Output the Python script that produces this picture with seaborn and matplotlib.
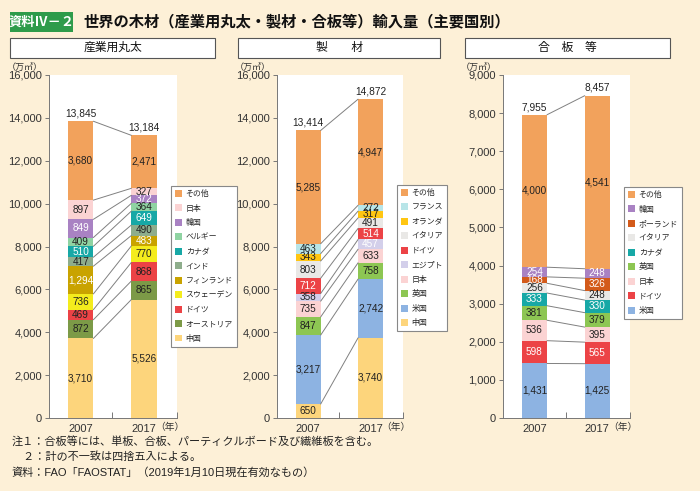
import matplotlib
matplotlib.use("Agg")
import matplotlib.pyplot as plt
from matplotlib.patches import Patch, Rectangle
import seaborn as sns
import pandas as pd

years = ["2007", "2017"]

# 産業用丸太 (bottom -> top)
logs_countries = ["中国", "オーストリア", "ドイツ", "スウェーデン", "フィンランド",
                  "インド", "カナダ", "ベルギー", "韓国", "日本", "その他"]
logs_2007 = [3710, 872, 469, 736, 1294, 417, 510, 409, 849, 897, 3680]
logs_2017 = [5526, 865, 868, 770, 483, 490, 649, 364, 372, 327, 2471]
logs_totals = [13845, 13184]

# 製材
sawn_countries = ["中国", "米国", "英国", "日本", "エジプト", "ドイツ",
                  "イタリア", "オランダ", "フランス", "その他"]
sawn_2007 = [650, 3217, 847, 735, 358, 712, 803, 343, 463, 5285]
sawn_2017 = [3740, 2742, 758, 633, 457, 514, 491, 317, 272, 4947]
sawn_totals = [13414, 14872]

# 合板等
ply_countries = ["米国", "ドイツ", "日本", "英国", "カナダ", "イタリア",
                 "ポーランド", "韓国", "その他"]
ply_2007 = [1431, 598, 536, 381, 333, 256, 168, 254, 4000]
ply_2017 = [1425, 565, 395, 379, 330, 248, 326, 248, 4541]
ply_totals = [7955, 8457]

palette = {
    "その他": "#F2A25C", "日本": "#FBD3D3", "韓国": "#A982C3", "ベルギー": "#8FD3A2",
    "カナダ": "#17A8A6", "インド": "#8EAD8C", "フィンランド": "#C9A300",
    "スウェーデン": "#F4EC1D", "ドイツ": "#EC4346", "オーストリア": "#7C9A47",
    "中国": "#FDD57C", "フランス": "#B8E5E8", "オランダ": "#FFC612",
    "イタリア": "#E9E8E6", "エジプト": "#D3CFEA", "英国": "#8DC653",
    "米国": "#8DB3E2", "ポーランド": "#D35A1A",
}

# segments whose value label is white: (country, year index)
logs_white = {("韓国", 0), ("韓国", 1), ("カナダ", 0), ("カナダ", 1),
              ("フィンランド", 0), ("フィンランド", 1)}
sawn_white = {("ドイツ", 0), ("ドイツ", 1), ("エジプト", 1)}
ply_white = {("韓国", 0), ("韓国", 1), ("ポーランド", 0), ("ポーランド", 1),
             ("カナダ", 0), ("カナダ", 1), ("ドイツ", 0), ("ドイツ", 1)}

sns.set_theme(style="ticks")
plt.rcParams["font.family"] = ["Liberation Sans", "Noto Sans CJK JP", "DejaVu Sans"]

BG = "#FDF0D7"
W, H = 700, 491
fig = plt.figure(figsize=(7, 4.91), dpi=100, facecolor=BG)


def fx(px):
    return px / W


def fy(py):
    return 1 - py / H


def draw_panel(left_px, width_px, countries, v07, v17, totals, white, ymax, ystep,
               legend_xy):
    ax = fig.add_axes([fx(left_px), fy(418), width_px / W, 343 / H])
    ax.set_facecolor("white")
    df = pd.DataFrame({"country": countries, "2007": v07, "2017": v17})
    df["top07"] = df["2007"].cumsum()
    df["top17"] = df["2017"].cumsum()

    # overlapping cumulative bars, tallest first
    for i in range(len(df) - 1, -1, -1):
        row = df.iloc[i]
        sns.barplot(x=years, y=[row["top07"], row["top17"]],
                    color=palette[row["country"]], saturation=1, width=0.4,
                    linewidth=0, ax=ax)

    bw = 0.2
    for i, row in df.iterrows():
        # connector lines between segment tops
        ax.plot([bw, 1 - bw], [row["top07"], row["top17"]], color="#808080",
                lw=0.7, zorder=3)
        for j, col in enumerate(["2007", "2017"]):
            top = row["top07"] if j == 0 else row["top17"]
            val = row[col]
            c = "white" if (row["country"], j) in white else "#222222"
            ax.text(j, top - val / 2, f"{val:,}", ha="center", va="center",
                    fontsize=7.2, color=c, zorder=4)
    for j, t in enumerate(totals):
        top = df["top07"].iloc[-1] if j == 0 else df["top17"].iloc[-1]
        ax.text(j, top + ymax * 0.008, f"{t:,}", ha="center", va="bottom",
                fontsize=7.3, color="#222222")

    ax.set_xlim(-0.5, 1.52)
    ax.set_ylim(0, ymax)
    ax.set_yticks(range(0, ymax + 1, ystep))
    ax.set_yticklabels([f"{v:,}" for v in range(0, ymax + 1, ystep)])
    ax.set_xticks([0, 1])
    ax.set_xticklabels(years)
    ax.set_xticks([0.5, 1.52], minor=True)
    ax.tick_params(axis="x", which="major", length=0, labelsize=8, pad=4,
                   colors="#333333")
    ax.tick_params(axis="x", which="minor", length=4, direction="in",
                   color="#777777", width=0.7)
    ax.tick_params(axis="y", length=3, width=0.7, color="#777777", labelsize=8,
                   labelcolor="#333333", pad=2)
    ax.set_xlabel("")
    ax.set_ylabel("")
    for s in ["top", "right"]:
        ax.spines[s].set_visible(False)
    for s in ["left", "bottom"]:
        ax.spines[s].set_color("#777777")
        ax.spines[s].set_linewidth(0.7)
    ax.text(1.4, -0.013, "（年）", transform=ax.get_xaxis_transform(),
            fontsize=7, ha="center", va="top", color="#333333")
    fig.text(fx(left_px - 24), fy(67), "（万㎥）", fontsize=6.5, ha="center",
             va="center", color="#333333")

    handles = [Patch(facecolor=palette[c], edgecolor="none", label=c)
               for c in countries[::-1]]
    leg = fig.legend(handles=handles, loc="upper left",
                     bbox_to_anchor=(fx(legend_xy[0]), fy(legend_xy[1])),
                     fontsize=5.7, frameon=True, fancybox=False, handlelength=0.95,
                     handleheight=0.95, handletextpad=0.4, labelspacing=0.8,
                     borderpad=0.5, borderaxespad=0)
    fr = leg.get_frame()
    fr.set_edgecolor("#888888")
    fr.set_linewidth(0.8)
    fr.set_facecolor("white")
    fr.set_alpha(1)
    return ax


draw_panel(49, 128, logs_countries, logs_2007, logs_2017, logs_totals, logs_white,
           16000, 2000, (171, 186))
draw_panel(277, 126, sawn_countries, sawn_2007, sawn_2017, sawn_totals, sawn_white,
           16000, 2000, (397, 185))
draw_panel(503, 127, ply_countries, ply_2007, ply_2017, ply_totals, ply_white,
           9000, 1000, (624, 187))

# header
fig.patches.append(Rectangle((fx(10), fy(32)), fx(63), 20 / H, transform=fig.transFigure,
                             facecolor="#2E9B4A", edgecolor="none"))
fig.text(fx(41.5), fy(22.5), "資料Ⅳ－２", fontsize=9.5, color="white", ha="center",
         va="center", fontweight="bold")
fig.text(fx(83), fy(22), "世界の木材（産業用丸太・製材・合板等）輸入量（主要国別）",
         fontsize=11, color="#111111", ha="left", va="center", fontweight="bold")

for x0, x1, label in [(10, 215, "産業用丸太"), (238, 440, "製　　材"),
                      (465, 670, "合　板　等")]:
    fig.patches.append(Rectangle((fx(x0), fy(58)), (x1 - x0) / W, 20 / H,
                                 transform=fig.transFigure, facecolor="white",
                                 edgecolor="#555555", linewidth=0.8))
    fig.text(fx((x0 + x1) / 2), fy(48), label, fontsize=8.5, ha="center",
             va="center", color="#111111")

# footnotes
notes = ["注１：合板等には、単板、合板、パーティクルボード及び繊維板を含む。",
         "　２：計の不一致は四捨五入による。",
         "資料：FAO「FAOSTAT」（2019年1月10日現在有効なもの）"]
for k, n in enumerate(notes):
    fig.text(fx(12), fy(441 + k * 16), n, fontsize=8, ha="left", va="center",
             color="#222222")

fig.savefig("out.png", dpi=100, facecolor=BG)
